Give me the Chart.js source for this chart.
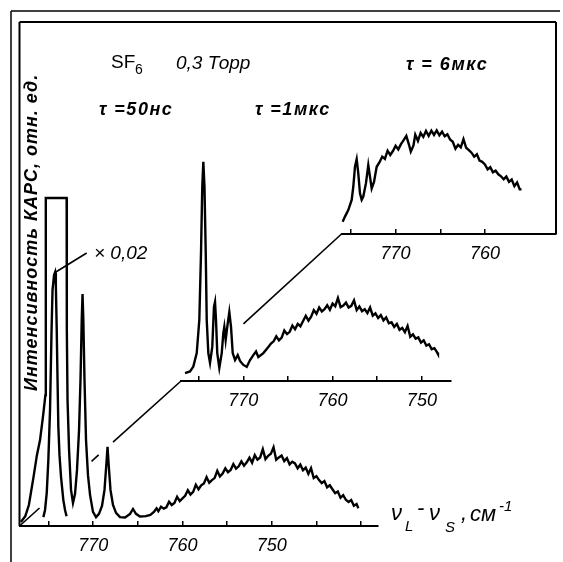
<!DOCTYPE html>
<html>
<head>
<meta charset="utf-8">
<script src="https://cdn.jsdelivr.net/npm/chart.js@4.4.1/dist/chart.umd.min.js"></script>
<style>
  html, body { margin: 0; padding: 0; background: #fff; }
  #wrap { position: relative; width: 563px; height: 562px; overflow: hidden; }
  #wrap canvas { position: absolute; left: 0; top: 0; }
</style>
</head>
<body>
<div id="wrap">
  <canvas id="back" width="563" height="562"></canvas>
  <canvas id="middle" width="563" height="562"></canvas>
  <canvas id="front" width="563" height="562"></canvas>
</div>
<script>
// Raman shift (cm-1) and CARS intensity (arb. units)

// tau = 50 ns, full scale (main line saturated at the top)
const frontNu = [778.1, 777.6, 777.2, 776.7, 776.3, 775.95, 775.6, 775.35, 775.32, 775.29, 772.97, 772.95, 772.87, 772.7, 772.48, 772.26, 772.03, 771.81, 771.58, 771.42, 771.28, 771.19, 771.1, 770.97, 770.8, 770.58, 770.35, 770.02, 769.68, 769.35, 769.01, 768.73, 768.53, 768.39, 768.26, 768.06, 767.78, 767.44, 767.0, 766.43, 765.87, 765.54, 765.2, 764.76, 764.1, 763.6, 763.2, 762.9, 762.7,
  762.4, 762.1, 761.8, 761.5, 761.2, 760.9, 760.6, 760.3, 760.0, 759.7, 759.4, 759.1, 758.8, 758.5, 758.2, 757.9, 757.6, 757.3, 757.0, 756.7, 756.4, 756.1, 755.8, 755.5, 755.2, 754.9, 754.6, 754.3, 754.0, 753.7, 753.4, 753.1, 752.8, 752.5, 752.2, 751.9, 751.6, 751.3, 751.0, 750.7, 750.4, 750.1, 749.8, 749.5, 749.2, 748.9, 748.6, 748.3, 748.0, 747.7, 747.4, 747.1, 746.8, 746.5, 746.2, 745.9, 745.6, 745.3, 745.0, 744.7, 744.4, 744.1, 743.8, 743.5, 743.2, 742.9, 742.6, 742.3, 742.0, 741.7, 741.4, 741.1, 740.8, 740.5, 740.3]
const frontI = [1.2, 3.0, 6.4, 14.6, 21.6, 26.2, 33.8, 39.9, 40.5, 100, 100, 60, 38.4, 23.2, 11.0, 7.0, 9.8, 17.1, 29.3, 44.5, 62.8, 70.7, 62.8, 44.5, 26.2, 15.5, 9.5, 4.3, 2.7, 3.7, 6.1, 11.0, 18.6, 24.1, 18.6, 11.0, 6.4, 4.0, 2.7, 2.6, 3.7, 5.2, 3.7, 2.9, 3.0, 3.4, 4.3, 5.4, 4.5,
  5.9, 5.3, 5.7, 7.4, 6.4, 7.0, 8.9, 7.6, 8.4, 9.2, 10.9, 9.6, 10.4, 12.6, 11.2, 12.4, 13.0, 14.9, 13.2, 14.0, 14.6, 16.8, 15.1, 16.0, 17.6, 16.4, 17.1, 18.9, 17.5, 18.2, 19.7, 18.4, 19.4, 20.8, 19.3, 21.6, 20.2, 20.9, 23.4, 20.4, 21.4, 22.0, 24.0, 20.2, 20.9, 21.5, 19.8, 20.7, 18.8, 19.6, 19.1, 17.6, 18.7, 17.0, 17.8, 15.9, 17.6, 14.6, 15.2, 14.0, 13.1, 13.7, 11.8, 12.4, 11.2, 10.0, 10.5, 8.6, 9.4, 8.0, 7.3, 7.9, 6.2, 6.7, 5.4, 5.0]

// tau = 50 ns, main line scaled x0.02
const scaledNu = [775.58, 775.39, 775.2, 775.02, 774.83, 774.66, 774.55, 774.38, 774.27, 774.18, 774.08, 773.99, 773.9, 773.77, 773.6, 773.34, 773.15, 772.98]
const scaledI = [2.7, 4.9, 10.1, 20.1, 35.4, 59.8, 72.0, 76.5, 77.3, 73.5, 59.8, 44.5, 30.3, 21.6, 15.0, 7.9, 4.9, 3.0]

// tau = 1 us
const middleNu = [776.52, 775.96, 775.59, 775.21, 774.92, 774.73, 774.59, 774.47, 774.34, 774.2, 774.09, 773.91, 773.72, 773.47, 773.28, 773.16, 773.05, 772.91, 772.68, 772.41, 772.23, 772.12, 771.97, 771.79, 771.56, 771.37, 771.18, 770.92, 770.62, 770.36, 769.99, 769.61, 769.24, 768.87, 768.57, 768.31, 767.75, 767.19,
  766.9, 766.6, 766.3, 766.0, 765.7, 765.4, 765.1, 764.8, 764.5, 764.2, 763.9, 763.6, 763.3, 763.0, 762.7, 762.4, 762.1, 761.8, 761.5, 761.2, 760.9, 760.6, 760.3, 760.0, 759.7, 759.4, 759.1, 758.8, 758.5, 758.2, 757.9, 757.6, 757.3, 757.0, 756.7, 756.4, 756.1, 755.8, 755.5, 755.2, 754.9, 754.6, 754.3, 754.0, 753.7, 753.4, 753.1, 752.8, 752.5, 752.2, 751.9, 751.6, 751.3, 751.0, 750.7, 750.4, 750.1, 749.8, 749.5, 749.2, 748.9, 748.6, 748.3, 748.2]
const middleI = [2.4, 2.9, 4.4, 8.5, 18.6, 39.0, 59.1, 66.8, 59.1, 39.0, 18.6, 8.5, 5.5, 10.4, 22.6, 24.1, 18.6, 8.5, 4.0, 8.5, 14.6, 16.5, 12.5, 16.5, 21.0, 16.5, 8.5, 6.4, 7.9, 6.1, 4.9, 4.3, 6.4, 7.9, 9.0, 7.3, 8.5, 10.4,
  11.4, 12.1, 13.6, 12.4, 13.2, 15.4, 14.3, 15.0, 16.9, 15.8, 17.4, 16.7, 18.3, 19.9, 18.4, 19.6, 21.6, 20.5, 22.4, 21.2, 21.9, 23.1, 21.7, 23.6, 22.8, 25.3, 22.5, 23.0, 23.9, 22.4, 22.9, 24.6, 21.6, 22.7, 21.3, 21.9, 20.7, 22.4, 19.9, 20.6, 19.2, 20.1, 18.5, 19.4, 17.6, 17.9, 16.5, 17.4, 15.6, 16.2, 14.9, 16.8, 13.5, 14.2, 12.9, 13.3, 11.7, 12.4, 10.8, 11.2, 9.7, 10.0, 8.7, 8.2]

// tau = 6 us
const backNu = [775.93, 775.67, 775.3, 774.92, 774.74, 774.55, 774.36, 774.18, 773.99, 773.8, 773.62, 773.32, 773.06, 772.87, 772.68, 772.42, 772.12,
  771.8, 771.5, 771.2, 770.9, 770.6, 770.3, 770.0, 769.7, 769.4, 769.1, 768.8, 768.5, 768.3, 768.0, 767.8, 767.5, 767.2, 766.9, 766.6, 766.3, 766.0, 765.7, 765.4, 765.1, 764.8, 764.5, 764.2, 763.9, 763.6, 763.3, 763.0, 762.7, 762.4, 762.1, 761.8, 761.5, 761.2, 760.9, 760.6, 760.3, 760.0, 759.7, 759.4, 759.1, 758.8, 758.5, 758.2, 757.9, 757.6, 757.3, 757.0, 756.7, 756.4, 756.1, 755.9]
const backI = [3.75, 5.3, 7.3, 10.4, 14.4, 20.5, 22.8, 18.5, 12.4, 10.4, 11.4, 15.5, 21.0, 17.5, 13.9, 15.9, 20.5,
  21.9, 23.6, 22.9, 25.4, 24.1, 25.3, 26.9, 25.8, 27.4, 28.6, 29.9, 27.2, 25.1, 27.0, 30.3, 28.4, 30.8, 29.6, 31.4, 29.9, 31.5, 30.2, 31.6, 30.1, 31.2, 29.8, 30.4, 28.8, 28.1, 26.0, 27.2, 26.4, 28.9, 26.3, 25.6, 24.8, 23.6, 24.3, 22.4, 22.0, 21.2, 19.7, 20.4, 18.8, 19.3, 18.2, 17.6, 16.7, 17.5, 15.9, 16.6, 14.6, 15.7, 13.6, 13.6]

// axis ticks
const frontTicks = [775, 770, 765, 760, 755, 750, 745, 740]
const middleTicks = [775, 770, 765, 760, 755, 750]
const backTicks = [775, 770, 765, 760]
const tickLabels = [770, 760, 750]

const FAMILY = '"Liberation Sans", Arial, sans-serif'

function toPoints(nu, inten) {
  return nu.map((v, i) => ({ x: v, y: inten[i] }))
}

function panel(id, series, xRange, yMax, ticks, pad, plugins) {
  return new Chart(document.getElementById(id), {
    type: 'line',
    data: {
      datasets: series.map(s => ({
        data: toPoints(s[0], s[1]),
        borderColor: '#000',
        borderWidth: 2.4,
        pointRadius: 0,
        tension: 0,
        fill: false,
        clip: false
      }))
    },
    options: {
      responsive: false,
      animation: false,
      devicePixelRatio: 1,
      layout: { padding: pad },
      plugins: { legend: { display: false }, tooltip: { enabled: false } },
      scales: {
        x: {
          type: 'linear',
          reverse: true,
          min: xRange[0],
          max: xRange[1],
          afterBuildTicks: scale => { scale.ticks = ticks.map(v => ({ value: v })) },
          afterFit: scale => { scale.height = 30 },
          border: { display: true, color: '#000', width: 2 },
          grid: { drawOnChartArea: false, drawTicks: true, tickLength: -5, color: '#000', lineWidth: 1.5 },
          ticks: {
            autoSkip: false,
            maxRotation: 0,
            padding: 14,
            color: '#000',
            font: { family: FAMILY, size: 18, style: 'italic' },
            callback: v => tickLabels.includes(v) ? String(v) : ''
          }
        },
        y: { display: false, min: 0, max: yMax }
      }
    },
    plugins: plugins || []
  })
}

const backChart = panel('back', [[backNu, backI]], [752.04, 776.06], 60, backTicks,
  { left: 341.5, right: 7, top: 37.2, bottom: 298 })

const middleChart = panel('middle', [[middleNu, middleI]], [746.74, 776.97], 100, middleTicks,
  { left: 181, right: 112, top: 53, bottom: 151 })

function line(ctx, x1, y1, x2, y2) {
  ctx.beginPath()
  ctx.moveTo(x1, y1)
  ctx.lineTo(x2, y2)
  ctx.stroke()
}

// perspective line between two axis origins, drawn only where it is not hidden
function hiddenLine(ctx, a, b, parts) {
  parts.forEach(p => {
    line(ctx, a.x + (b.x - a.x) * p[0], a.y + (b.y - a.y) * p[0],
              a.x + (b.x - a.x) * p[1], a.y + (b.y - a.y) * p[1])
  })
}

const decor = {
  id: 'decor',
  afterDraw(chart) {
    const ctx = chart.ctx
    const fa = chart.chartArea
    const ma = middleChart.chartArea
    const ba = backChart.chartArea
    ctx.save()
    ctx.strokeStyle = '#000'
    ctx.fillStyle = '#000'

    // scan border
    ctx.lineWidth = 1.5
    line(ctx, 11, 11, 11, 562)
    line(ctx, 11, 11, 560, 11)

    // frame / intensity axis
    ctx.lineWidth = 2
    line(ctx, fa.left, 22, fa.left, fa.bottom)
    line(ctx, fa.left, 22, ba.right, 22)
    line(ctx, ba.right, 22, ba.right, ba.bottom)

    // perspective lines
    ctx.lineWidth = 1.6
    hiddenLine(ctx, { x: fa.left, y: fa.bottom }, { x: ma.left, y: ma.bottom }, [[0, 0.124], [0.446, 0.49], [0.579, 1]])
    hiddenLine(ctx, { x: ma.left, y: ma.bottom }, { x: ba.left, y: ba.bottom }, [[0.389, 1]])

    // leader for x0,02
    const xs = chart.scales.x, ys = chart.scales.y
    line(ctx, xs.getPixelForValue(774.27), ys.getPixelForValue(77.3), 86.7, 253)

    ctx.textBaseline = 'alphabetic'
    ctx.textAlign = 'left'
    ctx.letterSpacing = '0px'
    ctx.font = '19px ' + FAMILY
    ctx.fillText('SF', 111, 68)
    ctx.font = '14px ' + FAMILY
    ctx.fillText('6', 135, 74)
    ctx.font = 'italic 19px ' + FAMILY
    ctx.fillText('0,3 Торр', 176, 69)
    ctx.font = 'italic bold 18px ' + FAMILY
    ctx.letterSpacing = '1.5px'
    ctx.fillText('τ = 6мкс', 406, 70)
    ctx.fillText('τ =50нс', 99, 115)
    ctx.fillText('τ =1мкс', 255, 115)
    ctx.letterSpacing = '0px'
    ctx.font = 'italic 19px ' + FAMILY
    ctx.fillText('× 0,02', 94, 259)

    // axis title
    ctx.font = 'italic 22px ' + FAMILY
    ctx.fillText('ν', 391, 520)
    ctx.fillText('-', 417, 515)
    ctx.fillText('ν', 429, 520)
    ctx.fillText(',', 461, 520)
    ctx.fillText('см', 470, 521)
    ctx.font = 'italic 15px ' + FAMILY
    ctx.fillText('L', 405, 531)
    ctx.fillText('S', 445, 532)
    ctx.fillText('-1', 499, 511)

    // intensity title
    ctx.save()
    ctx.translate(37, 391)
    ctx.rotate(-Math.PI / 2)
    ctx.font = 'italic bold 18px ' + FAMILY
    ctx.letterSpacing = '1px'
    ctx.fillText('Интенсивность КАРС, отн. ед.', 0, 0)
    ctx.restore()

    ctx.restore()
  }
}

const frontChart = panel('front', [[frontNu, frontI], [scaledNu, scaledI]], [738.1, 778.25], 100, frontTicks,
  { left: 19.5, right: 185, top: 198, bottom: 6 }, [decor])
</script>
</body>
</html>
